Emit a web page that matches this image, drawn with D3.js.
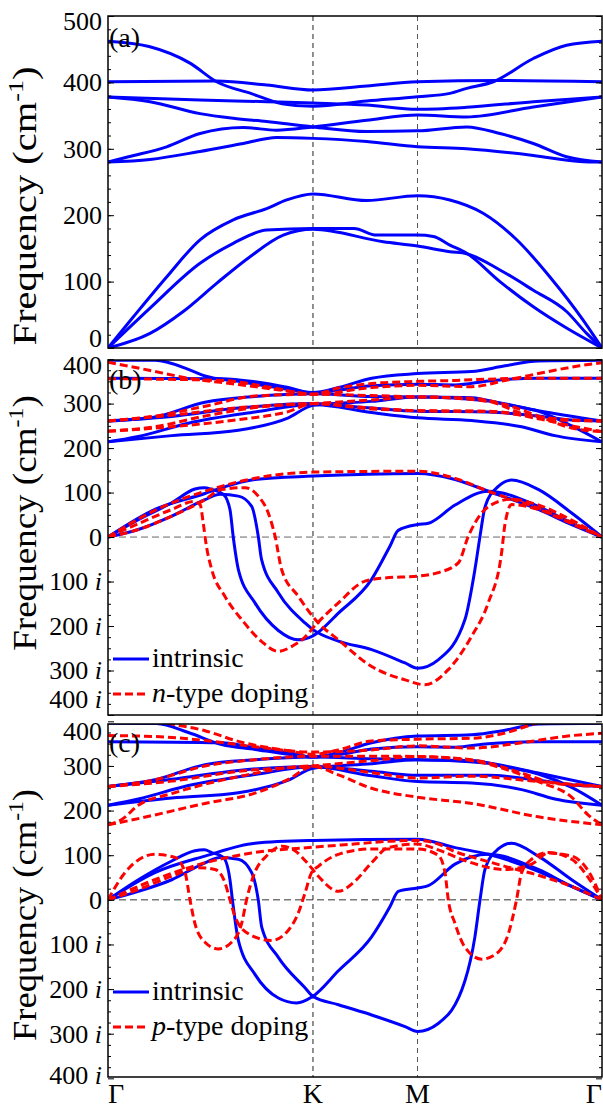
<!DOCTYPE html>
<html>
<head>
<meta charset="utf-8">
<script src="https://cdn.jsdelivr.net/npm/d3@7"></script>
<style>
  body { margin: 0; background: #fff; }
</style>
</head>
<body>
<script>
const width = 603;
const height = 1111;
const serif = "'Liberation Serif', 'Times New Roman', serif";

// high-symmetry points along the path
const kPos = [0, 1, 1.51, 2.41];
const kNames = ["Γ", "K", "M", "Γ"];

// tick values / labels
const ticksA = [0, 100, 200, 300, 400, 500];
const tickTextA = ["0", "100", "200", "300", "400", "500"];
const ticksBC = [-400, -300, -200, -100, 0, 100, 200, 300, 400];
const tickTextBC = ["400 i", "300 i", "200 i", "100 i", "0", "100", "200", "300", "400"];

// (a) bands, [k, frequency]
const bandsA = [
  [[0,462],[0.2,454],[0.4,429],[0.53,401],[0.7,383],[0.849,368],[1,364],[1.262,372],[1.51,378.5],[1.668,383.5],[1.75,391],[1.88,401],[2.075,436],[2.237,456],[2.41,462]],
  [[0,401],[0.53,402],[0.774,396],[1,388.5],[1.262,394.5],[1.51,401],[1.912,403],[2.41,401]],
  [[0,378],[0.449,373.5],[0.774,371],[1,369],[1.262,366],[1.51,359.5],[1.75,362.5],[2.075,371],[2.41,378]],
  [[0,378],[0.205,371],[0.449,353],[0.611,346],[0.774,341],[1,333],[1.262,326],[1.51,327],[1.75,333],[1.912,323],[2.075,308],[2.237,288],[2.41,280]],
  [[0,280],[0.1,288],[0.286,303],[0.449,323],[0.66,332],[0.823,328],[1,333],[1.262,343],[1.51,351],[1.75,348],[2.075,363],[2.41,378]],
  [[0,280],[0.205,284],[0.449,296],[0.66,308],[0.823,317],[1,315.7],[1.262,311],[1.51,303],[1.75,300],[2.075,290],[2.3,281],[2.41,280]],
  [[0,0],[0.124,47],[0.286,107],[0.449,163],[0.611,193],[0.774,210],[0.872,223],[1,232],[1.262,222],[1.51,229.4],[1.668,223],[1.83,203],[1.994,163],[2.156,107],[2.318,42],[2.41,0]],
  [[0,0],[0.205,60],[0.449,127.5],[0.611,157.7],[0.774,177.7],[1,180],[1.2,180],[1.31,170],[1.51,170],[1.587,168],[1.668,155],[1.75,142.6],[1.912,100],[2.075,62],[2.237,30],[2.41,0]],
  [[0,0],[0.205,22],[0.367,55],[0.53,97.4],[0.693,137.5],[0.855,170],[1,178.7],[1.343,160],[1.51,153.6],[1.668,145],[1.75,142],[1.912,117.5],[2.075,87],[2.237,55],[2.335,22],[2.41,0]]
];

// (b) intrinsic and n-type doping
const bandsBIntrinsic = [
  [[0,397.5],[0.229,397.5],[0.392,377],[0.473,362],[0.636,350],[0.798,338],[1,325],[1.124,336],[1.286,357],[1.51,367.5],[1.774,372],[1.937,385],[2.099,396],[2.41,397.5]],
  [[0,357],[0.555,356],[0.717,349],[0.88,336],[1,324],[1.124,330],[1.286,340],[1.51,343.5],[1.693,342],[1.855,351],[2.099,357],[2.41,357]],
  [[0,261],[0.229,270],[0.473,303],[0.717,316],[1,322],[1.286,316],[1.51,315],[1.774,313],[1.937,298],[2.099,283],[2.262,250],[2.41,214]],
  [[0,261],[0.311,271],[0.636,290],[1,300],[1.286,290],[1.51,283],[1.855,281],[2.099,272],[2.262,263],[2.41,261]],
  [[0,214],[0.148,226],[0.392,256],[0.717,281],[1,298],[1.286,280],[1.51,268],[1.774,262],[2.018,248],[2.18,228],[2.41,214]],
  [[0,214],[0.311,228],[0.636,240],[0.88,268],[1,296],[1.286,305],[1.51,315],[1.855,306],[2.099,284],[2.41,261]],
  [[0,0],[0.229,62],[0.473,98],[0.555,111],[0.717,129.5],[1,137],[1.51,143],[1.693,129.5],[1.855,103],[2.099,62],[2.262,28],[2.41,0]],
  [[0,0],[0.148,39],[0.311,77],[0.424,108],[0.47,111],[0.506,107],[0.563,96],[0.595,62],[0.611,0],[0.636,-73],[0.717,-148],[0.831,-210],[0.928,-231],[1,-222],[1.124,-171],[1.286,-95],[1.376,-20],[1.416,15],[1.51,28],[1.563,31],[1.693,72],[1.855,103],[2.099,69],[2.262,31],[2.41,0]],
  [[0,0],[0.148,17],[0.311,47],[0.473,84],[0.547,96],[0.636,92],[0.701,69],[0.733,2],[0.749,-50],[0.831,-125],[0.961,-193],[1,-208],[1.124,-234],[1.286,-253],[1.449,-283],[1.51,-295],[1.611,-276],[1.741,-186],[1.79,-73],[1.815,2],[1.84,69],[1.904,114],[1.969,128],[2.099,107],[2.262,54],[2.41,0]]
];
const bandsBDoped = [
  [[0,393],[0.2,375],[0.392,357],[0.636,343],[0.88,328],[1,321],[1.124,335],[1.286,345],[1.51,350],[1.693,352],[1.855,355],[2.099,357],[2.41,357]],
  [[0,356],[0.555,352],[0.798,336],[1,321],[1.286,336],[1.51,341],[1.774,338],[1.937,352],[2.18,375],[2.3,385],[2.41,392]],
  [[0,261],[0.229,272],[0.473,294],[0.717,317],[1,321],[1.286,318],[1.51,315],[1.774,312],[1.937,298],[2.099,272],[2.262,245],[2.41,237]],
  [[0,261],[0.311,274],[0.636,291],[1,300],[1.286,308],[1.51,315],[1.855,305],[2.018,278],[2.262,262],[2.41,261]],
  [[0,238],[0.229,248],[0.473,272],[0.717,291],[1,300],[1.286,290],[1.51,284],[1.855,283],[2.099,266],[2.262,250],[2.41,237]],
  [[0,238],[0.311,248],[0.636,264],[0.88,282],[1,300],[1.286,288],[1.51,284],[1.855,282],[2.018,275],[2.262,263],[2.41,261]],
  [[0,0],[0.229,60],[0.473,103],[0.717,132],[1,146],[1.51,148],[1.693,132],[1.855,103],[2.099,65],[2.262,33],[2.41,0]],
  [[0,0],[0.148,30],[0.311,62],[0.42,80],[0.45,72],[0.465,30],[0.48,-20],[0.506,-73],[0.57,-133],[0.66,-190],[0.75,-235],[0.831,-257],[0.9,-245],[0.961,-225],[1.01,-199],[1.124,-148],[1.254,-99],[1.35,-92],[1.51,-88],[1.611,-80],[1.709,-58],[1.758,2],[1.823,54],[1.872,73],[1.969,85],[2.099,72],[2.262,38],[2.41,0]],
  [[0,0],[0.148,17],[0.311,47],[0.473,84],[0.554,107],[0.668,111],[0.733,92],[0.782,54],[0.815,2],[0.847,-73],[0.928,-133],[1.026,-193],[1.124,-231],[1.286,-291],[1.449,-321],[1.546,-332],[1.66,-298],[1.774,-223],[1.855,-148],[1.92,-36],[1.937,30],[1.969,73],[2.099,62],[2.262,30],[2.41,0]]
];

// (c) intrinsic and p-type doping
const bandsCIntrinsic = [
  [[0,395.5],[0.237,395],[0.392,375],[0.554,348],[0.717,337],[0.88,326],[1,320],[1.124,330],[1.286,352],[1.51,367],[1.774,370],[1.937,380],[2.099,394],[2.41,395.5]],
  [[0,354.5],[0.554,352],[0.717,341],[0.88,330],[1,320],[1.124,325],[1.286,338],[1.51,343],[1.693,342],[1.855,350],[2.099,354],[2.41,354.5]],
  [[0,254],[0.229,269],[0.473,303],[0.717,314],[1,320],[1.286,316],[1.51,314],[1.774,312],[1.937,298],[2.099,282],[2.262,252],[2.41,212]],
  [[0,254],[0.311,270],[0.636,290],[1,299],[1.286,288],[1.51,279],[1.855,279],[2.099,268],[2.262,258],[2.41,254]],
  [[0,212],[0.148,226],[0.392,256],[0.717,281],[1,298],[1.286,278],[1.51,265],[1.774,262],[2.018,247],[2.18,226],[2.41,212]],
  [[0,212],[0.311,228],[0.636,240],[0.88,268],[1,295],[1.286,305],[1.51,314],[1.855,306],[2.099,284],[2.41,254]],
  [[0,0],[0.229,61],[0.473,98],[0.717,127],[1,133],[1.51,136],[1.693,117],[1.855,102],[2.099,64],[2.262,30],[2.41,0]],
  [[0,0],[0.148,45],[0.311,87],[0.424,110],[0.47,112],[0.506,106],[0.563,95],[0.595,45],[0.607,0],[0.636,-91],[0.717,-167],[0.831,-220],[0.92,-231],[1,-216],[1.124,-159],[1.286,-83],[1.376,-15],[1.416,19],[1.51,26.5],[1.563,32],[1.693,80],[1.855,102],[2.099,68],[2.262,30],[2.41,0]],
  [[0,0],[0.148,19],[0.311,45],[0.473,83],[0.546,95],[0.636,91],[0.701,61],[0.733,0],[0.75,-61],[0.831,-129],[0.961,-197],[1,-216],[1.124,-235],[1.286,-258],[1.449,-284],[1.51,-295],[1.611,-277],[1.741,-182],[1.79,-83],[1.815,0],[1.839,68],[1.904,114],[1.969,127],[2.099,98],[2.262,45],[2.41,0]]
];
const bandsCDoped = [
  [[0,418],[0.15,412],[0.278,397],[0.473,379],[0.636,355],[0.88,334],[1,326],[1.124,336],[1.286,356],[1.51,360],[1.774,362],[1.937,374],[2.099,397],[2.25,412],[2.41,418]],
  [[0,368],[0.229,366],[0.473,357],[0.717,343],[1,331],[1.286,336],[1.51,345],[1.774,340],[2.018,352],[2.262,368],[2.41,373]],
  [[0,254],[0.229,269],[0.473,300],[0.717,314],[1,322],[1.286,322],[1.51,321],[1.774,314],[2.018,284],[2.18,261],[2.41,254]],
  [[0,254],[0.311,266],[0.636,288],[1,300],[1.286,312],[1.51,321],[1.774,312],[1.937,293],[2.099,265],[2.262,230],[2.343,190],[2.41,168]],
  [[0,168],[0.067,180],[0.148,212],[0.311,238],[0.636,276],[1,300],[1.286,285],[1.51,273],[1.774,277],[2.099,265],[2.41,254]],
  [[0,168],[0.148,182],[0.473,216],[0.717,239],[0.88,270],[1,299],[1.124,280],[1.286,250],[1.51,230],[1.774,216],[2.099,186],[2.41,168]],
  [[0,0],[0.2,40],[0.45,80],[0.7,105],[1,118],[1.2,125],[1.4,132],[1.51,133],[1.611,125],[1.693,108],[1.807,92],[1.937,75],[2.099,55],[2.262,30],[2.41,0]],
  [[0,0],[0.083,61],[0.229,102],[0.327,95],[0.376,61],[0.4,0],[0.424,-53],[0.473,-95],[0.538,-110],[0.603,-95],[0.652,-53],[0.676,0],[0.709,53],[0.782,102],[0.847,120],[0.912,110],[0.977,80],[1.026,53],[1.124,19],[1.205,42],[1.286,83],[1.367,117],[1.51,125],[1.611,112],[1.741,88],[1.937,68],[2.067,80],[2.148,105],[2.262,98],[2.343,65],[2.41,0]],
  [[0,0],[0.148,23],[0.311,53],[0.441,72],[0.522,68],[0.571,38],[0.595,0],[0.62,-38],[0.685,-76],[0.798,-91],[0.88,-68],[0.928,-30],[0.961,15],[0.993,61],[1.026,75],[1.124,102],[1.286,114],[1.51,114],[1.611,100],[1.644,61],[1.66,0],[1.693,-53],[1.741,-106],[1.823,-133],[1.904,-117],[1.953,-76],[1.993,0],[2.018,61],[2.067,91],[2.148,106],[2.262,91],[2.343,50],[2.41,0]]
];

const panels = [
  { id: "a", top: 16, bottom: 348, domain: [0, 500], ticks: ticksA, text: tickTextA, minor: 20,
    solid: bandsA, dashed: [], tag: "(a)", tagY: 47, zero: false, edge: [5, -10],
    labelY: 206, stretch: 1.19 },
  { id: "b", top: 360, bottom: 715, domain: [-400, 398], ticks: ticksBC, text: tickTextBC, minor: 25,
    solid: bandsBIntrinsic, dashed: bandsBDoped, tag: "(b)", tagY: 389, zero: true, edge: [6, -16],
    labelY: 523, stretch: 1.09, legend: { y: 659, kind: "n" } },
  { id: "c", top: 724, bottom: 1077, domain: [-397, 394], ticks: ticksBC, text: tickTextBC, minor: 25,
    solid: bandsCIntrinsic, dashed: bandsCDoped, tag: "(c)", tagY: 752, zero: true, edge: [10, -3],
    labelY: 915, stretch: 1.075, legend: { y: 992, kind: "p" } }
];

const margin = { left: 108, right: 1 };

let svg = d3.select("body").append("svg")
  .attr("width", width)
  .attr("height", height)
  .style("font-family", serif);

let x = d3.scaleLinear()
  .domain([0, kPos[kPos.length - 1]])
  .range([margin.left, width - margin.right]);

panels.forEach((p) => {
  let y = d3.scaleLinear().domain(p.domain).range([p.bottom, p.top]);
  let g = svg.append("g").attr("id", "panel-" + p.id);

  g.append("clipPath").attr("id", "clip-" + p.id)
    .append("rect")
    .attr("x", x.range()[0]).attr("y", p.top)
    .attr("width", x.range()[1] - x.range()[0]).attr("height", p.bottom - p.top);

  // guide lines at K and M
  g.selectAll(".kline").data(kPos.slice(1, 3)).join("line")
    .attr("class", "kline")
    .attr("x1", (d) => x(d)).attr("x2", (d) => x(d))
    .attr("y1", p.top).attr("y2", p.bottom)
    .attr("stroke", (d, i) => (i === 0 ? "#222" : "#555")).attr("stroke-width", 1)
    .attr("stroke-dasharray", "5,4");

  if (p.zero) {
    g.append("line")
      .attr("x1", x.range()[0]).attr("x2", x.range()[1])
      .attr("y1", y(0)).attr("y2", y(0))
      .attr("stroke", p.id === "b" ? "#666" : "#333").attr("stroke-width", 1)
      .attr("stroke-dasharray", "7,4");
  }

  let line = d3.line()
    .x((d) => x(d[0]))
    .y((d) => y(d[1]))
    .curve(d3.curveMonotoneX);

  let plot = g.append("g").attr("clip-path", `url(#clip-${p.id})`);

  plot.selectAll(".solid").data(p.solid).join("path")
    .attr("class", "solid")
    .attr("d", line)
    .attr("fill", "none")
    .attr("stroke", "#0000ff")
    .attr("stroke-width", 3);

  plot.selectAll(".dashed").data(p.dashed).join("path")
    .attr("class", "dashed")
    .attr("d", line)
    .attr("fill", "none")
    .attr("stroke", "#ff0000")
    .attr("stroke-width", 3)
    .attr("stroke-dasharray", "8,4");

  // minor ticks, both sides
  let minorTicks = d3.range(Math.ceil(p.domain[0] / p.minor) * p.minor, p.domain[1] + 0.1, p.minor);
  g.append("g").attr("transform", `translate(${x.range()[0]},0)`)
    .call(d3.axisLeft(y).tickValues(minorTicks).tickSize(-3).tickFormat(""))
    .call((s) => s.select(".domain").remove());
  g.append("g").attr("transform", `translate(${x.range()[1]},0)`)
    .call(d3.axisRight(y).tickValues(minorTicks).tickSize(-3).tickFormat(""))
    .call((s) => s.select(".domain").remove());

  // major ticks with labels
  let left = g.append("g").attr("transform", `translate(${x.range()[0]},0)`)
    .call(d3.axisLeft(y).tickValues(p.ticks).tickSize(-6).tickPadding(6)
      .tickFormat((d, i) => p.text[i]))
    .call((s) => s.select(".domain").remove());
  g.append("g").attr("transform", `translate(${x.range()[1]},0)`)
    .call(d3.axisRight(y).tickValues(p.ticks).tickSize(-6).tickFormat(""))
    .call((s) => s.select(".domain").remove());

  left.selectAll("text")
    .attr("font-size", 26)
    .style("font-family", serif)
    .attr("fill", "#000")
    .each(function (d, i) {
      let t = d3.select(this);
      let label = p.text[i];
      if (label.endsWith(" i")) {
        t.text(label.slice(0, -1));
        t.append("tspan").attr("font-style", "italic").text("i");
      }
      let py = y(d);
      if (py - p.top < 6) t.attr("y", p.edge[0]);
      if (p.bottom - py < 6) t.attr("y", p.edge[1]);
    });
  g.selectAll(".tick line").attr("stroke", "#000");

  // frame
  g.append("rect")
    .attr("x", x.range()[0]).attr("y", p.top)
    .attr("width", x.range()[1] - x.range()[0]).attr("height", p.bottom - p.top)
    .attr("fill", "none").attr("stroke", "#000").attr("stroke-width", 1.5);

  // panel tag
  g.append("text")
    .attr("x", x.range()[0] + 1).attr("y", p.tagY)
    .attr("font-size", 28)
    .style("font-family", serif)
    .text(p.tag);

  // y label (stretched along its length, like the original figure)
  let yl = g.append("text")
    .attr("transform", `translate(36,${p.labelY}) rotate(-90) scale(${p.stretch},1)`)
    .attr("text-anchor", "middle")
    .attr("font-size", 34)
    .style("font-family", serif);
  yl.append("tspan").text("Frequency (cm");
  yl.append("tspan").attr("font-size", 22).attr("dy", -13).text("-1");
  yl.append("tspan").attr("dy", 13).text(")");

  // legend
  if (p.legend) {
    let lg = g.append("g").style("font-family", serif);
    lg.append("line")
      .attr("x1", 113).attr("x2", 149)
      .attr("y1", p.legend.y).attr("y2", p.legend.y)
      .attr("stroke", "#0000ff").attr("stroke-width", 3);
    lg.append("text").attr("x", 152).attr("y", p.legend.y + 8)
      .attr("font-size", 28).style("font-family", serif).text("intrinsic");
    lg.append("line")
      .attr("x1", 113).attr("x2", 149)
      .attr("y1", p.legend.y + 35).attr("y2", p.legend.y + 35)
      .attr("stroke", "#ff0000").attr("stroke-width", 3)
      .attr("stroke-dasharray", "8,4");
    let t2 = lg.append("text").attr("x", 152).attr("y", p.legend.y + 43)
      .attr("font-size", 28).style("font-family", serif);
    t2.append("tspan").attr("font-style", "italic").text(p.legend.kind);
    t2.append("tspan").text("-type doping");
  }
});

// high symmetry labels below the last panel
svg.append("g").selectAll("text").data(kPos).join("text")
  .attr("x", (d) => x(d))
  .attr("y", 1103)
  .attr("font-size", 28)
  .style("font-family", serif)
  .attr("text-anchor", (d, i) => (i === 0 ? "start" : i === kPos.length - 1 ? "end" : "middle"))
  .text((d, i) => kNames[i]);
</script>
</body>
</html>
